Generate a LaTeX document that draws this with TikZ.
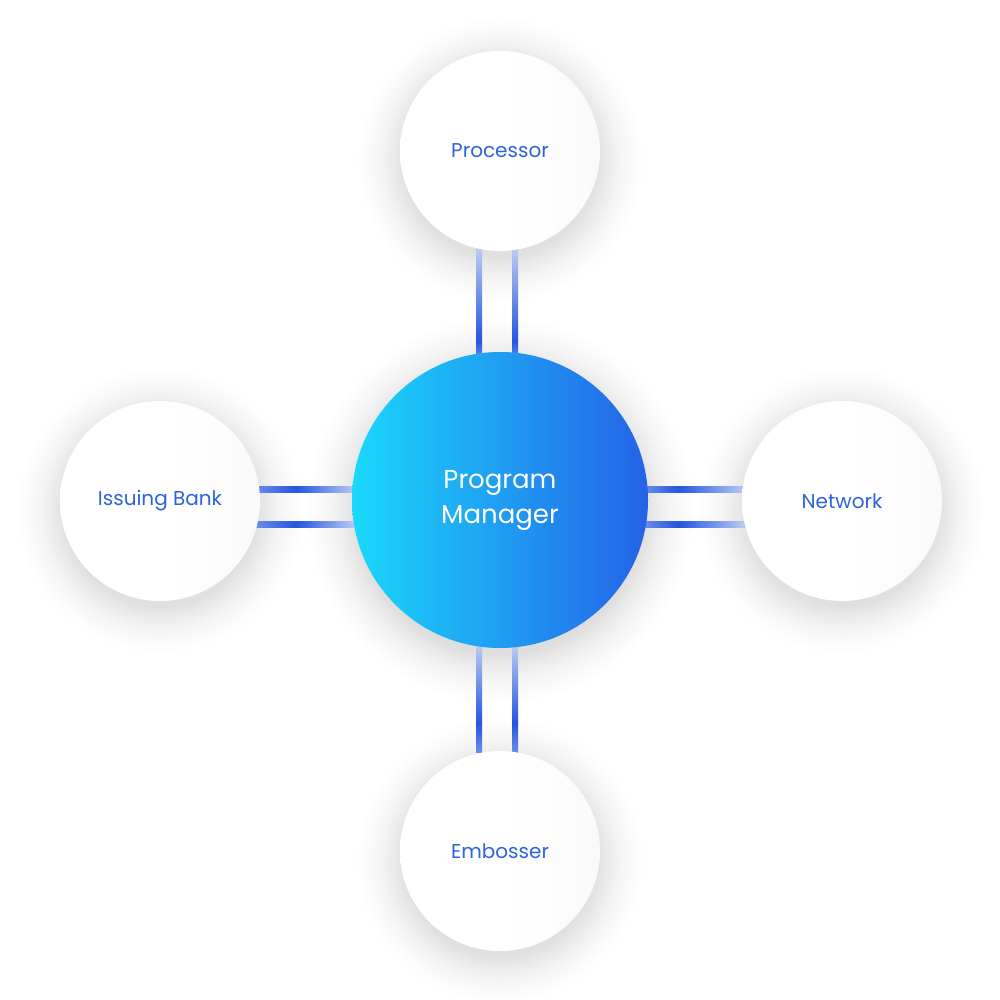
\documentclass[tikz,border=0pt]{standalone}
\usepackage{fontspec}
\setmainfont{Poppins}
\definecolor{lblue}{HTML}{2F63DC}
\definecolor{cyanA}{HTML}{1AD8FB}
\definecolor{blueB}{HTML}{2462E8}
\definecolor{lnDark}{HTML}{2356E0}
\definecolor{lnMid}{HTML}{6A8DE8}
\definecolor{lnLight}{HTML}{BCCCF2}
% TikZ maps a path's bounding box onto the 25bp--75bp part of a shading
\pgfdeclarehorizontalshading{pmshade}{100bp}{color(0bp)=(cyanA); color(25bp)=(cyanA); color(75bp)=(blueB); color(100bp)=(blueB)}
\pgfdeclarehorizontalshading{wshade}{100bp}{color(0bp)=(white); color(52bp)=(white); color(75bp)=(black!2); color(100bp)=(black!2)}
\pgfdeclareverticalshading{vtop}{100bp}{color(0bp)=(lnMid); color(25bp)=(lnMid); color(32.5bp)=(lnDark); color(75bp)=(lnLight); color(100bp)=(lnLight)}
\pgfdeclareverticalshading{vbot}{100bp}{color(0bp)=(lnMid); color(25bp)=(lnMid); color(38.5bp)=(lnDark); color(75bp)=(lnLight); color(100bp)=(lnLight)}
\pgfdeclarehorizontalshading{hleft}{100bp}{color(0bp)=(lnMid); color(25bp)=(lnMid); color(45bp)=(lnDark); color(75bp)=(lnLight); color(100bp)=(lnLight)}
\pgfdeclarehorizontalshading{hright}{100bp}{color(0bp)=(lnMid); color(25bp)=(lnMid); color(41.5bp)=(lnDark); color(75bp)=(lnLight); color(100bp)=(lnLight)}
% shadow for outer circles (r=100 inside a disc of r=145)
\pgfdeclareradialshading{shsmall}{\pgfpoint{0bp}{0bp}}{color(0bp)=(black!12); color(16.5bp)=(black!12); color(18.5bp)=(black!8); color(21bp)=(black!3.5); color(23.5bp)=(black!1); color(25bp)=(white); color(50bp)=(white)}
% shadow for hub (r=148 inside a disc of r=195)
\pgfdeclareradialshading{shbig}{\pgfpoint{0bp}{0bp}}{color(0bp)=(black!13); color(18.3bp)=(black!13); color(20bp)=(black!8); color(22bp)=(black!3.5); color(24bp)=(black!1); color(25bp)=(white); color(50bp)=(white)}
\tikzset{
  outer/.style={circle, minimum size=200pt, inner sep=0pt, shading=wshade, text=lblue,
    font=\fontsize{20}{24}\selectfont},
  hub/.style={circle, minimum size=296pt, inner sep=0pt, shading=pmshade, text=white, align=center,
    font=\fontsize{26}{36}\selectfont},
  shsm/.style={shading=shsmall},
  shbg/.style={shading=shbig},
}
\begin{document}
\begin{tikzpicture}[x=1pt, y=-1pt]
\fill[white] (0,0) rectangle (1000,1000);
\useasboundingbox (0,0) rectangle (1000,1000);
% shadows
\shade[shsm] (500,160) circle[radius=145];
\shade[shsm] (160,510) circle[radius=145];
\shade[shsm] (842,510) circle[radius=145];
\shade[shsm] (500,860) circle[radius=145];
\shade[shbg] (500,510) circle[radius=195];
% connectors
\shade[shading=vtop] (476,248) rectangle (482,358);
\shade[shading=vtop] (512,248) rectangle (518,358);
\shade[shading=vbot] (476,645) rectangle (482,752);
\shade[shading=vbot] (512,645) rectangle (518,752);
\shade[shading=hleft] (256,486) rectangle (356,492);
\shade[shading=hleft] (256,521.5) rectangle (356,527.5);
\shade[shading=hright] (645,486) rectangle (746,492);
\shade[shading=hright] (645,521.5) rectangle (746,527.5);
% nodes
\node[hub] (pm) at (500,500) {Program\\[-1pt]Manager};
\node[outer] (proc) at (500,151) {Processor};
\node[outer] (bank) at (160,501) {Issuing Bank};
\node[outer] (net) at (842,501) {Network};
\node[outer] (emb) at (500,851) {Embosser};
\end{tikzpicture}
\end{document}
